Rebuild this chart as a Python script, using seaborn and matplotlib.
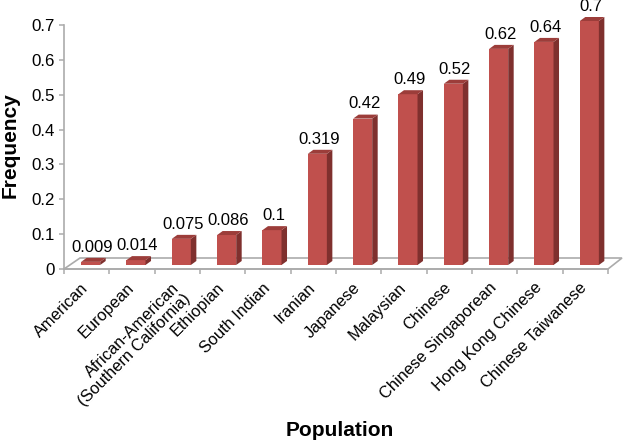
import matplotlib
matplotlib.use("Agg")
import matplotlib.pyplot as plt
import matplotlib.transforms as mtrans
from matplotlib.patches import Polygon
import seaborn as sns
import pandas as pd

populations = ["American", "European", "African-American\n(Southern California)", "Ethiopian",
               "South Indian", "Iranian", "Japanese", "Malaysian", "Chinese",
               "Chinese Singaporean", "Hong Kong Chinese", "Chinese Taiwanese"]
frequency = [0.009, 0.014, 0.075, 0.086, 0.1, 0.319, 0.42, 0.49, 0.52, 0.62, 0.64, 0.7]
value_labels = ["0.009", "0.014", "0.075", "0.086", "0.1", "0.319", "0.42", "0.49", "0.52", "0.62", "0.64", "0.7"]
y_ticks = [0, 0.1, 0.2, 0.3, 0.4, 0.5, 0.6, 0.7]
y_tick_labels = ["0", "0.1", "0.2", "0.3", "0.4", "0.5", "0.6", "0.7"]

W, H = 623, 442
sns.set_theme(style="white")
plt.rcParams["font.family"] = ["Liberation Sans", "DejaVu Sans"]
fig = plt.figure(figsize=(W / 100, H / 100), dpi=100)
L, R, T, B = 64, 608, 25, 269
ax = fig.add_axes([L / W, 1 - B / H, (R - L) / W, (B - T) / H])
df = pd.DataFrame({"Population": populations, "Frequency": frequency})
front = "#C0504D"
sns.barplot(data=df, x="Population", y="Frequency", color=front, saturation=1, width=0.42, ax=ax, zorder=3)
ax.set_xlim(-0.5, 11.5)
ax.set_ylim(0, 0.7)

def px(dx, dy):
    return mtrans.ScaledTranslation(dx / 100, dy / 100, fig.dpi_scale_trans)

gc = "#ABABAB"
ax.add_patch(Polygon([[L, H - B], [L + 16, H - B + 11], [R + 14, H - B + 11], [R, H - B]], closed=True,
                     facecolor="white", edgecolor=gc, lw=1.2, transform=None, clip_on=False, zorder=1))

shift = px(4, 4)
bars = [b for b in ax.patches if hasattr(b, "get_height")]
for b, lab in zip(bars, value_labels):
    b.set_transform(ax.transData + shift)
    b.set_clip_on(False)
    b.set_edgecolor("none")
    x0 = b.get_x(); x1 = x0 + b.get_width(); h = b.get_height()
    p0 = ax.transData.transform((x0, 0)) + [4, 4]
    p1 = ax.transData.transform((x1, h)) + [4, 4]
    dx, dy = 5.5, 4.0
    ax.add_patch(Polygon([[p1[0], p0[1]], [p1[0] + dx, p0[1] + dy], [p1[0] + dx, p1[1] + dy], [p1[0], p1[1]]],
                         closed=True, facecolor="#7F302E", edgecolor="none", transform=None, clip_on=False, zorder=3))
    ax.add_patch(Polygon([[p0[0], p1[1]], [p1[0], p1[1]], [p1[0] + dx, p1[1] + dy], [p0[0] + dx, p1[1] + dy]],
                         closed=True, facecolor="#9C3D3A", edgecolor="none", transform=None, clip_on=False, zorder=3))
    ax.annotate(lab, xy=((x0 + x1) / 2, h), xytext=(4, 8), textcoords="offset points", ha="center", va="bottom",
                fontsize=12, color="black", annotation_clip=False, zorder=5)

sns.despine(ax=ax, top=True, right=True)
for s in ("left", "bottom"):
    ax.spines[s].set_color(gc)
    ax.spines[s].set_linewidth(1.2)
ax.set_yticks(y_ticks, y_tick_labels, fontsize=12.2, color="black")
ax.set_xticks([i - 0.5 for i in range(13)], [""] * 13)
ax.tick_params(axis="both", which="major", length=3.5, width=1.1, color=gc, left=True, bottom=True, pad=3)
ax.set_xticks(range(12), populations, minor=True, rotation=45, ha="right", rotation_mode="anchor",
              fontsize=11.8, color="black", linespacing=1.1)
ax.tick_params(axis="x", which="minor", length=0, pad=8)
offset = mtrans.ScaledTranslation(-6 / 100, 0, fig.dpi_scale_trans)
for t in ax.get_xticklabels(minor=True):
    t.set_transform(t.get_transform() + offset)
ax.set_xlabel("")
ax.set_ylabel("")
fig.text(340 / W, 1 - 431 / H, "Population", ha="center", va="center", fontsize=15, fontweight="bold", color="black")
fig.text(10 / W, 1 - 145 / H, "Frequency", ha="center", va="center", rotation=90, fontsize=15, fontweight="bold", color="black")
fig.savefig("out.png", dpi=100)
